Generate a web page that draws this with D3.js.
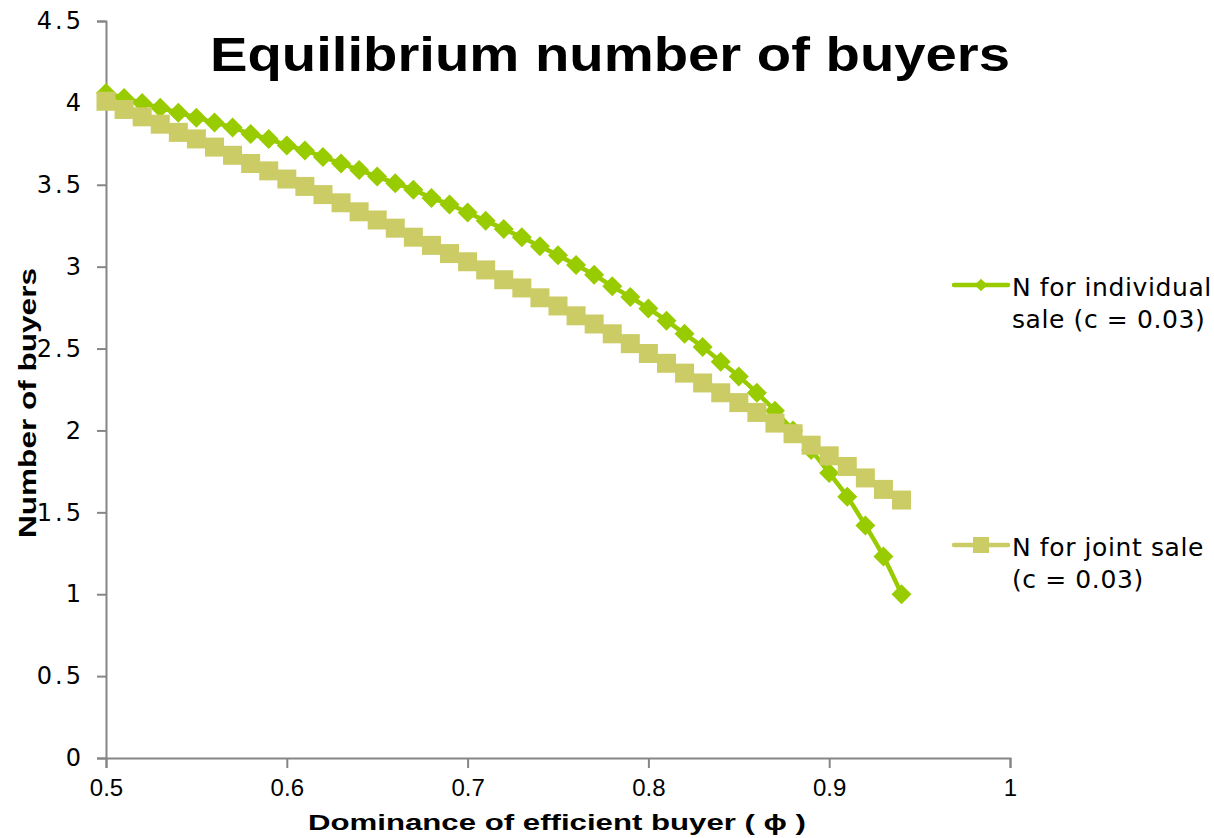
<!DOCTYPE html>
<html>
<head>
<meta charset="utf-8">
<script src="https://cdn.jsdelivr.net/npm/d3@7"></script>
<style>
  body { margin: 0; background: #fff; }
  svg { display: block; }
</style>
</head>
<body>
<div id="chart"></div>
<script>
// dominance of efficient buyer (phi)
var phi = [0.50, 0.51, 0.52, 0.53, 0.54, 0.55, 0.56, 0.57, 0.58, 0.59,
           0.60, 0.61, 0.62, 0.63, 0.64, 0.65, 0.66, 0.67, 0.68, 0.69,
           0.70, 0.71, 0.72, 0.73, 0.74, 0.75, 0.76, 0.77, 0.78, 0.79,
           0.80, 0.81, 0.82, 0.83, 0.84, 0.85, 0.86, 0.87, 0.88, 0.89,
           0.90, 0.91, 0.92, 0.93, 0.94];

var individualSale = [4.06, 4.03, 4.00, 3.97, 3.94, 3.91, 3.88, 3.85, 3.81, 3.78,
                      3.74, 3.71, 3.67, 3.63, 3.59, 3.55, 3.51, 3.47, 3.42, 3.38,
                      3.33, 3.28, 3.23, 3.18, 3.125, 3.07, 3.01, 2.95, 2.88, 2.815,
                      2.745, 2.67, 2.59, 2.51, 2.42, 2.33, 2.23, 2.12, 2.00, 1.88,
                      1.74, 1.595, 1.42, 1.23, 1.00];

var jointSale = [4.01, 3.96, 3.915, 3.87, 3.82, 3.78, 3.73, 3.68, 3.63, 3.585,
                 3.535, 3.49, 3.44, 3.39, 3.335, 3.285, 3.235, 3.18, 3.13, 3.08,
                 3.03, 2.98, 2.92, 2.87, 2.81, 2.76, 2.70, 2.65, 2.59, 2.53,
                 2.47, 2.41, 2.35, 2.29, 2.23, 2.17, 2.11, 2.045, 1.98, 1.91,
                 1.845, 1.78, 1.71, 1.64, 1.575];

var xTicks = [0.5, 0.6, 0.7, 0.8, 0.9, 1];
var yTicks = [0, 0.5, 1, 1.5, 2, 2.5, 3, 3.5, 4, 4.5];

var seriesNames = [["N for individual", "sale (c = 0.03)"], ["N for joint sale", "(c = 0.03)"]];

var W = 1214, H = 838;
var green = "#99cc00", khaki = "#cccc66", axisGrey = "#868686";

var svg = d3.select("#chart").append("svg").attr("width", W).attr("height", H);

var x = d3.scaleLinear().domain([0.5, 1]).range([106, 1010]);
var y = d3.scaleLinear().domain([0, 4.5]).range([758, 21]);

// axes
var yAxis = svg.append("g").attr("transform", "translate(" + x(0.5) + ",0)")
  .call(d3.axisLeft(y).tickValues(yTicks).tickSize(9).tickPadding(13).tickFormat(function(d) { return d; }));
yAxis.attr("font-size", null).attr("font-family", null);
yAxis.select(".domain").attr("stroke", axisGrey).attr("stroke-width", 2);
yAxis.selectAll(".tick line").attr("stroke", axisGrey).attr("stroke-width", 2);
yAxis.selectAll(".tick text")
  .style("font-family", "'DejaVu Sans', Verdana, sans-serif").style("font-size", "24px")
  .attr("letter-spacing", 3).attr("fill", "#000");

var xAxis = svg.append("g").attr("transform", "translate(0," + y(0) + ")")
  .call(d3.axisBottom(x).tickValues(xTicks).tickSize(10).tickPadding(11).tickFormat(function(d) { return d; }));
xAxis.attr("font-size", null).attr("font-family", null);
xAxis.select(".domain").attr("stroke", axisGrey).attr("stroke-width", 2);
xAxis.selectAll(".tick line").attr("stroke", axisGrey).attr("stroke-width", 2);
xAxis.selectAll(".tick text")
  .style("font-family", "'Liberation Sans Narrow', 'Liberation Sans', Arial, sans-serif")
  .style("font-size", "24px").attr("fill", "#000");

// series
var line = d3.line().curve(d3.curveMonotoneX)
  .x(function(d) { return x(d[0]); })
  .y(function(d) { return y(d[1]); });

var indData = d3.zip(phi, individualSale);
var jntData = d3.zip(phi, jointSale);

var diamond = d3.symbol().type(d3.symbolSquare).size(200);

svg.append("path").datum(indData).attr("d", line)
  .attr("fill", "none").attr("stroke", green).attr("stroke-width", 4.5);
svg.append("g").selectAll("path").data(indData).enter().append("path")
  .attr("d", diamond)
  .attr("transform", function(d) { return "translate(" + x(d[0]) + "," + y(d[1]) + ") rotate(45)"; })
  .attr("fill", green);

svg.append("path").datum(jntData).attr("d", line)
  .attr("fill", "none").attr("stroke", khaki).attr("stroke-width", 4.5);
svg.append("g").selectAll("rect").data(jntData).enter().append("rect")
  .attr("x", function(d) { return x(d[0]) - 9.5; })
  .attr("y", function(d) { return y(d[1]) - 9.5; })
  .attr("width", 19).attr("height", 19)
  .attr("fill", khaki);

// title
svg.append("text").attr("x", 210).attr("y", 71)
  .attr("font-family", "'Liberation Sans', Arial, sans-serif").attr("font-weight", "bold")
  .attr("font-size", 49).attr("textLength", 800).attr("lengthAdjust", "spacingAndGlyphs")
  .text("Equilibrium number of buyers");

// axis titles
svg.append("text").attr("x", 308).attr("y", 830)
  .attr("font-family", "'Liberation Sans', Arial, sans-serif").attr("font-weight", "bold")
  .attr("font-size", 22).attr("textLength", 498).attr("lengthAdjust", "spacingAndGlyphs")
  .text("Dominance of efficient buyer ( \u03d5 )");

svg.append("text").attr("transform", "translate(36,538) rotate(-90)")
  .attr("font-family", "'Liberation Sans', Arial, sans-serif").attr("font-weight", "bold")
  .attr("font-size", 23).attr("textLength", 270).attr("lengthAdjust", "spacingAndGlyphs")
  .text("Number of buyers");

// legend
var legend = svg.append("g");
var legY = [285, 545];
var legColors = [green, khaki];
legY.forEach(function(ly, i) {
  legend.append("line").attr("x1", 954).attr("x2", 1008).attr("y1", ly).attr("y2", ly)
    .attr("stroke", legColors[i]).attr("stroke-width", 4.5).attr("stroke-linecap", "round");
  if (i === 0) {
    legend.append("path").attr("d", d3.symbol().type(d3.symbolSquare).size(80))
      .attr("transform", "translate(981," + ly + ") rotate(45)").attr("fill", green);
  } else {
    legend.append("rect").attr("x", 973).attr("y", ly - 8).attr("width", 16).attr("height", 16)
      .attr("fill", khaki);
  }
  seriesNames[i].forEach(function(t, j) {
    legend.append("text").attr("x", 1012).attr("y", ly + 11 + j * 32)
      .attr("font-family", "'DejaVu Sans', Verdana, sans-serif").attr("font-size", 25)
      .attr("letter-spacing", 0.6).attr("fill", "#000")
      .text(t);
  });
});
</script>
</body>
</html>
